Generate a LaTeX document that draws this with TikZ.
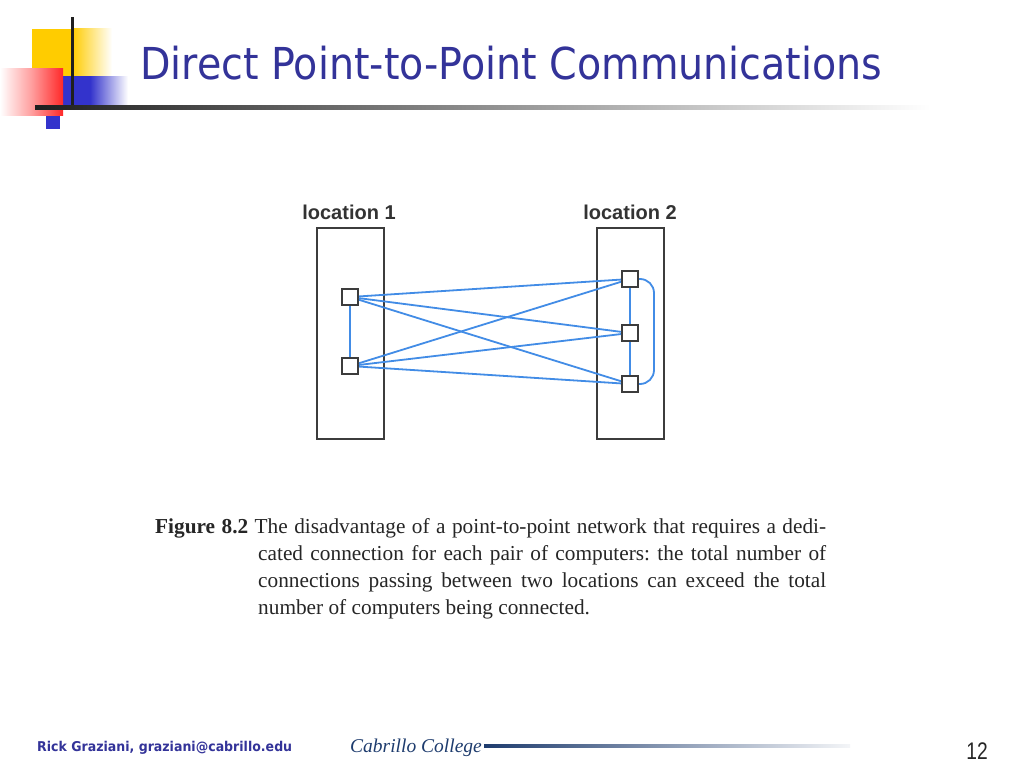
\documentclass[tikz,border=0pt]{standalone}
\usepackage{fontspec}
\setmainfont{Liberation Serif}
\newfontfamily\titlefont[FakeStretch=0.9]{DejaVu Sans}
\newfontfamily\labelfont{Liberation Sans}
\newfontfamily\footfont[FakeStretch=0.93]{DejaVu Sans}
\newfontfamily\numfont[FakeStretch=0.8]{Liberation Sans}
\definecolor{titleblue}{RGB}{51,51,153}
\definecolor{linkblue}{RGB}{66,140,230}
\definecolor{boxgray}{RGB}{60,60,60}
\definecolor{navy}{RGB}{30,60,110}
\definecolor{decoyellow}{RGB}{255,204,0}
\definecolor{decored}{RGB}{255,40,40}
\definecolor{decoblue}{RGB}{51,51,204}
\frenchspacing
\begin{document}
\begin{tikzpicture}[x=1pt,y=-1pt,
  loc/.style={draw=boxgray, line width=2pt, rectangle, inner sep=0pt},
  comp/.style={draw=boxgray, fill=white, line width=2pt, minimum size=16pt, inner sep=0pt, rectangle},
  link/.style={draw=linkblue, line width=1.8pt},
  lbl/.style={font=\labelfont\bfseries\fontsize{20}{24}\selectfont, text=black!80, inner sep=0pt},
]
\useasboundingbox[fill=white] (0,0) rectangle (1024,768);
% decoration
\fill[decoyellow] (32,29) rectangle (72,77);
\shade[left color=decoyellow, right color=white] (72,29) rectangle (112,77);
\fill[decoblue] (63,76) rectangle (90,105);
\shade[left color=decoblue, right color=white] (90,76) rectangle (128,105);
\shade[left color=white, right color=decored, middle color=decored!45!white] (0,68) rectangle (63,115);
\fill[decoblue] (46,116) rectangle (60,129);
\fill[black!88] (71,17) rectangle (74,109);
\shade[left color=black!88, right color=white] (35,105) rectangle (930,109);
% title
\node[anchor=base west, text=titleblue, font=\titlefont\fontsize{44}{48}\selectfont, inner sep=0pt] (title) at (140,79) {Direct Point-to-Point Communications};
% locations
\node[loc, minimum width=67pt, minimum height=211pt, anchor=north west] (loc1) at (316,227) {};
\node[loc, minimum width=67pt, minimum height=211pt, anchor=north west] (loc2) at (596,227) {};
\node[lbl, anchor=base] (l1) at (349,219) {location 1};
\node[lbl, anchor=base] (l2) at (630,219) {location 2};
% computers
\node[comp] (a1) at (350,297) {};
\node[comp] (a2) at (350,366) {};
\node[comp] (b1) at (630,279) {};
\node[comp] (b2) at (630,333) {};
\node[comp] (b3) at (630,384) {};
% links
\draw[link] (a1) -- (a2);
\draw[link] (b1) -- (b2);
\draw[link] (b2) -- (b3);
\draw[link] (a1) -- (b1);
\draw[link] (a1) -- (b2);
\draw[link] (a1) -- (b3);
\draw[link] (a2) -- (b1);
\draw[link] (a2) -- (b2);
\draw[link] (a2) -- (b3);
\draw[link, rounded corners=14pt] (b1.east) -- ([xshift=15pt]b1.east) -- ([xshift=15pt]b3.east) -- (b3.east);
% caption
\node[anchor=base west, inner sep=0pt, text=black!85] (cap) at (155,533) {\parbox[t]{671pt}{\fontsize{21.3}{27}\selectfont\hangindent=103pt\hangafter=1\noindent\textbf{Figure 8.2} The disadvantage of a point-to-point network that requires a dedi-\linebreak cated connection for each pair of computers: the total number of\linebreak connections passing between two locations can exceed the total\linebreak number of computers being connected.}};
% footer
\node[anchor=base west, text=titleblue, font=\footfont\bfseries\fontsize{13.5}{15}\selectfont, inner sep=0pt] (auth) at (37,751) {Rick Graziani, graziani@cabrillo.edu};
\node[anchor=base west, text=navy, font=\itshape\fontsize{19.5}{24}\selectfont, inner sep=0pt] (logo) at (350,752) {Cabrillo College};
\shade[left color=navy, right color=navy!5!white] (484,744.5) rectangle (850,747.5);
\node[anchor=base east, font=\numfont\fontsize{24}{28}\selectfont, inner sep=0pt, text=black!85] (pg) at (988,759) {12};
\end{tikzpicture}
\end{document}
